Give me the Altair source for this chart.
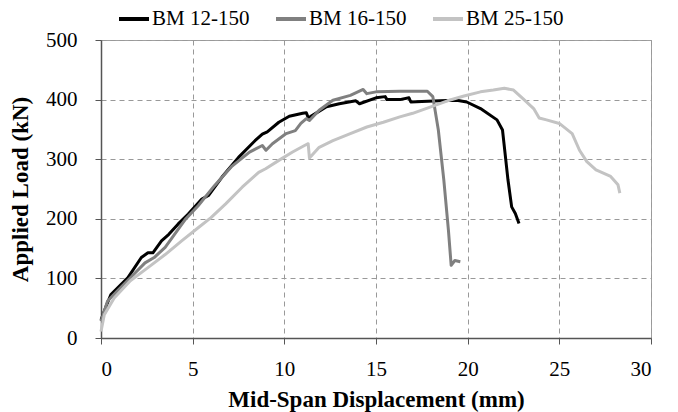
import altair as alt
import pandas as pd

series_names = ["BM 12-150", "BM 16-150", "BM 25-150"]
series_colors = ["#000000", "#808080", "#c3c3c3"]

x12 = [0, 0.3, 0.54, 0.91, 1.46, 2.2, 2.56, 2.83, 3.3, 3.7, 4.2, 4.76, 5.5, 5.86, 6.6, 7.5, 8.4, 8.8, 9.07, 9.7,
       10.27, 11.0, 11.2, 11.3, 11.4, 12.3, 13.0, 13.9, 14.1, 15.0, 15.5, 15.6, 16.3, 16.8, 16.9, 17.5, 18.5, 19.4,
       19.95, 20.7, 21.6, 21.9, 22.0, 22.2, 22.4, 22.6, 22.8]
y12 = [30, 55, 73, 84, 101, 135, 143, 143, 163, 174, 191, 208, 233, 239, 270, 303, 331, 342, 346, 362,
       372, 377, 378, 370, 371, 388, 393, 398, 393, 403, 405, 400, 400, 403, 396, 397, 398, 399,
       396, 385, 366, 349, 321, 265, 220, 209, 192]

x16 = [0, 0.36, 0.9, 1.6, 2.4, 2.9, 3.5, 4.6, 5.3, 6.2, 7.1, 8.1, 8.8, 9.0, 9.35, 10.1, 10.6, 10.9, 11.2, 11.37,
       11.9, 12.65, 13.6, 14.3, 14.5, 15.0, 16.3, 17.8, 18.1, 18.4, 18.7, 18.95, 19.1, 19.3, 19.6]
y16 = [28, 62, 79, 101, 126, 135, 152, 199, 222, 256, 287, 312, 323, 315, 326, 343, 348, 360, 368, 365,
       382, 399, 407, 417, 410, 413, 414, 414, 405, 349, 265, 181, 122, 130, 128]

x25 = [0, 0.18, 0.72, 1.6, 2.56, 3.5, 4.4, 5.3, 6.0, 6.8, 7.7, 8.6, 8.98, 9.7, 10.45, 11.1, 11.3, 11.37, 11.9,
       12.65, 13.6, 14.5, 15.4, 16.3, 17.0, 18.9, 19.8, 20.7, 21.4, 22.0, 22.5, 23.0, 23.6, 23.9, 24.3, 25.0,
       25.7, 26.1, 26.5, 27.0, 27.8, 28.2, 28.3]
y25 = [11, 39, 67, 96, 118, 140, 163, 185, 202, 225, 253, 278, 284, 298, 312, 323, 326, 302, 320,
       331, 343, 354, 362, 371, 377, 398, 406, 413, 416, 419, 416, 402, 385, 369, 366, 360,
       343, 315, 296, 282, 271, 257, 243]

rows = []
for name, xs, ys in zip(series_names, [x12, x16, x25], [y12, y16, y25]):
    for i, (xv, yv) in enumerate(zip(xs, ys)):
        rows.append({"series": name, "disp": xv, "load": yv, "idx": i})
df = pd.DataFrame(rows)

serif = "Liberation Serif"

chart = alt.Chart(df).mark_line(strokeWidth=3, strokeJoin="round").encode(
    x=alt.X("disp:Q", scale=alt.Scale(domain=[0, 30], nice=False),
            axis=alt.Axis(title="Mid-Span Displacement (mm)", values=[0, 5, 10, 15, 20, 25, 30])),
    y=alt.Y("load:Q", scale=alt.Scale(domain=[0, 500], nice=False),
            axis=alt.Axis(title="Applied Load (kN)", values=[0, 100, 200, 300, 400, 500])),
    color=alt.Color("series:N", scale=alt.Scale(domain=series_names, range=series_colors),
                    legend=alt.Legend(title=None, orient="none", legendX=16, legendY=-38,
                                      direction="horizontal", columns=3, symbolType="stroke",
                                      symbolSize=900, symbolStrokeWidth=4, labelFont=serif,
                                      labelFontSize=21, labelColor="#000", labelOffset=1,
                                      columnPadding=18, labelLimit=200)),
    order="idx:Q",
).properties(
    width=550, height=298,
    autosize=alt.AutoSizeParams(type="none"),
    padding={"left": 101, "top": 40, "right": 27, "bottom": 74},
).configure_view(
    stroke="#a0a0a0", strokeWidth=1
).configure_axis(
    labelFont=serif, labelFontSize=21, labelColor="#000",
    titleFont=serif, titleFontSize=23, titleFontWeight="bold", titleColor="#000",
    grid=True, gridDash=[5, 4], gridColor="#999999", gridWidth=1,
    domainColor="#555555", domainWidth=1.5, tickColor="#555555", tickSize=6,
).configure_axisX(
    labelPadding=14, titlePadding=9, grid=True
).configure_axisY(
    labelPadding=18, titlePadding=13
)

chart.save("out.html", embed_options={"renderer": "svg", "actions": False})
